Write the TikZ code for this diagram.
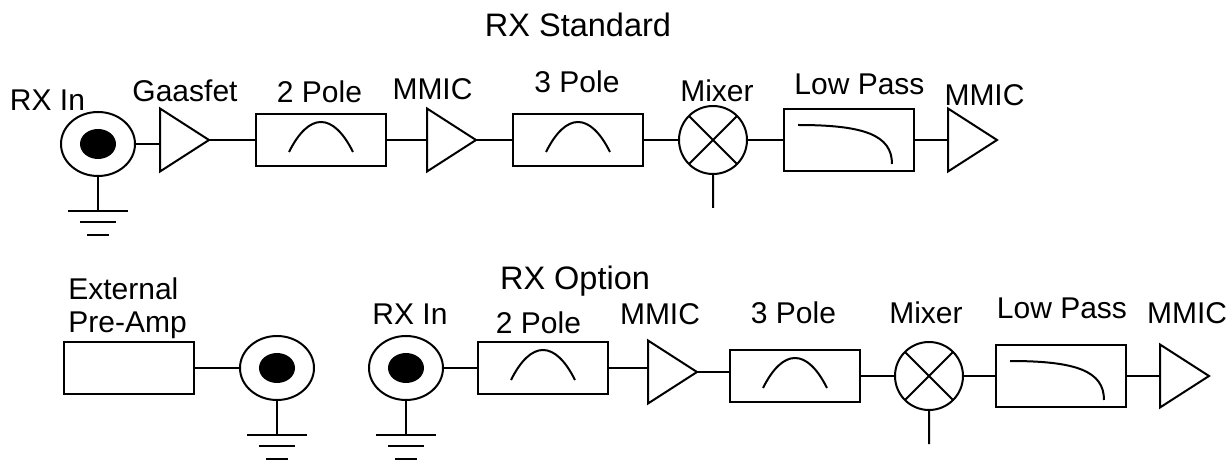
\documentclass[tikz,border=0pt]{standalone}
\usepackage{fontspec}
\setmainfont{Liberation Sans}
\usetikzlibrary{positioning,shapes.geometric}

\tikzset{
  blockbox/.style={draw, rectangle, inner sep=0pt, minimum width=130pt, minimum height=52pt},
  filter/.style={blockbox, path picture={\draw ([shift={(-32,12)}]path picture bounding box.center)
      .. controls +(20,-40) and +(-20,-40) .. ([shift={(32,12)}]path picture bounding box.center);}},
  lowpass/.style={blockbox, minimum height=62pt, path picture={\draw ([shift={(-51,-15)}]path picture bounding box.center)
      .. controls +(66,0) and +(0,-29) .. ([shift={(43,24)}]path picture bounding box.center);}},
  amp/.style={rectangle, inner sep=0pt, minimum width=49pt, minimum height=63pt,
      append after command={\pgfextra{\draw[line join=miter] (\tikzlastnode.north west) -- (\tikzlastnode.east)
      -- (\tikzlastnode.south west) -- cycle;}}},
  jack/.style={draw, ellipse, inner sep=0pt, minimum width=74pt, minimum height=64pt,
      path picture={\fill (path picture bounding box.center) ellipse (18pt and 15pt);}},
  mixer/.style={draw, circle, inner sep=0pt, minimum size=68pt}
}

\begin{document}
\begin{tikzpicture}[x=1pt, y=-1pt, line width=2pt, outer sep=0pt,
    lbl/.style={anchor=base, font=\fontsize{30}{33}\selectfont},
    head/.style={anchor=base, font=\fontsize{32.5}{36}\selectfont}]
      \useasboundingbox (0,0) rectangle (1227,462);
      \node (JckA) [jack] at (98,144) {};
      \node (Gas) [amp, right=25pt of JckA, yshift=4pt] {};
      \node (PolA) [filter, right=47pt of Gas] {};
      \node (MicA) [amp, right=41pt of PolA] {};
      \node (PolB) [filter, right=37pt of MicA] {};
      \node (MixA) [mixer, right=36pt of PolB] {};
      \node (LowA) [lowpass, right=37pt of MixA] {};
      \node (MicB) [amp, right=34pt of LowA] {};
      \node (Pre) [blockbox] at (129,368) {};
      \node (JckB) [jack, right=46pt of Pre] {};
      \node (JckC) [jack, right=55pt of JckB] {};
      \node (PolC) [filter, right=35pt of JckC] {};
      \node (MicC) [amp, right=40pt of PolC, yshift=-4pt] {};
      \node (PolD) [filter, right=33pt of MicC, yshift=-4pt] {};
      \node (MixB) [mixer, right=35pt of PolD] {};
      \node (LowB) [lowpass, right=33pt of MixB] {};
      \node (MicD) [amp, right=34pt of LowB] {};
      \node (Std) [head] at (578,37) {RX Standard};
      \node (InA) [lbl] at (47.5,111) {RX In};
      \node (GasL) [lbl] at (185,102) {Gaasfet};
      \node (PolAL) [lbl] at (319.5,103) {2 Pole};
      \node (MicAL) [lbl] at (432.5,100) {MMIC};
      \node (PolBL) [lbl] at (577,93) {3 Pole};
      \node (MixAL) [lbl] at (717,102) {Mixer};
      \node (LowAL) [lbl] at (859.5,95) {Low Pass};
      \node (MicBL) [lbl] at (984.5,106) {MMIC};
      \node (Opt) [head] at (575,290) {RX Option};
      \node (PreL) [lbl, anchor=base west, align=left] at (65,333) {External\\Pre-Amp};
      \node (InC) [lbl] at (410,325) {RX In};
      \node (PolCL) [lbl] at (538.5,334) {2 Pole};
      \node (MicCL) [lbl] at (660,325) {MMIC};
      \node (PolDL) [lbl] at (793.5,324) {3 Pole};
      \node (MixBL) [lbl] at (926,324) {Mixer};
      \node (LowBL) [lbl] at (1062,319) {Low Pass};
      \node (MicDL) [lbl] at (1187,324) {MMIC};
      \foreach \a/\b in {JckA/Gas, Gas/PolA, PolA/MicA, MicA/PolB, PolB/MixA, MixA/LowA, LowA/MicB,
          Pre/JckB, JckC/PolC, PolC/MicC, MicC/PolD, PolD/MixB, MixB/LowB, LowB/MicD}
        \draw (\a.east) -- (\b.west |- \a.east);
      \foreach \j in {JckA, JckB, JckC}
        \draw (\j.south) -- ++(0,35) ++(-30,0) -- ++(60,0) ++(-48,11) -- ++(36,0) ++(-29,13) -- ++(22,0);
      \foreach \m in {MixA, MixB}
        \draw (\m.45) -- (\m.225) (\m.135) -- (\m.315) (\m.south) -- ++(0,34);
    \end{tikzpicture}
\end{document}
